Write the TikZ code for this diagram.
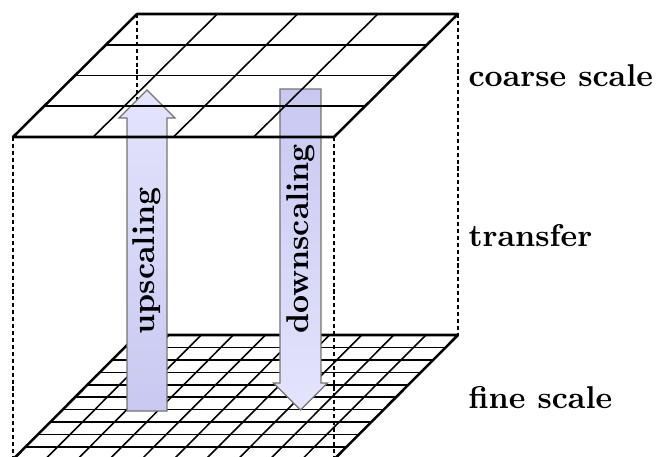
\documentclass[tikz,border=0pt]{standalone}
\usetikzlibrary{calc}
\definecolor{arrowlight}{RGB}{228,228,253}
\definecolor{arrowdark}{RGB}{200,200,242}
\begin{document}
\begin{tikzpicture}[x=0.3175pt,y=-0.3175pt,
  gridline/.style={line width=0.5pt},
  gridedge/.style={line width=0.8pt, line join=round},
  guide/.style={line width=0.4pt, dash pattern=on 1.3pt off 0.9pt},
  arrowbody/.style={draw=black!55, line width=0.35pt, line join=miter},
  layerlabel/.style={font=\bfseries, anchor=west},
  arrowlabel/.style={font=\bfseries, rotate=90}]
\useasboundingbox (0,0) rectangle (656,457);

% corners of the coarse (upper) and fine (lower) layers
\coordinate (cFL) at (13,137);  \coordinate (cFR) at (334,137);
\coordinate (cBL) at (137,14);  \coordinate (cBR) at (458,14);
\coordinate (fFL) at (13,459.5);  \coordinate (fFR) at (334,459.5);
\coordinate (fBL) at (137,335); \coordinate (fBR) at (458,335);

% vertical guides joining the two layers
\draw[guide] (cBL) -- (fBL);
\draw[guide] (cBR) -- (fBR);
\draw[guide] (cFL) -- (fFL);
\draw[guide] (cFR) -- (fFR);

% fine grid, 10 x 10
\foreach \i in {1,...,9} {
  \draw[gridline] ($(fFL)!\i/10!(fFR)$) -- ($(fBL)!\i/10!(fBR)$);
  \draw[gridline] ($(fFL)!\i/10!(fBL)$) -- ($(fFR)!\i/10!(fBR)$);
}
\draw[gridedge] (fFL) -- (fFR) -- (fBR) -- (fBL) -- cycle;

% upscaling arrow
\draw[arrowbody, top color=arrowlight, bottom color=arrowdark]
  (127,411) -- (127,118) -- (119,118) -- (147,90) -- (175,118)
  -- (167,118) -- (167,411) -- cycle;
\node[arrowlabel] (up) at (147,261) {upscaling};

% downscaling arrow
\draw[arrowbody, top color=arrowdark, bottom color=arrowlight]
  (280,89) -- (321,89) -- (321,383) -- (327.5,383) -- (300.5,410)
  -- (273.5,383) -- (280,383) -- cycle;
\node[arrowlabel] (down) at (300.5,239) {downscaling};

% coarse grid, 4 x 4, drawn over the arrows
\foreach \i in {1,...,3} {
  \draw[gridline] ($(cFL)!\i/4!(cFR)$) -- ($(cBL)!\i/4!(cBR)$);
  \draw[gridline] ($(cFL)!\i/4!(cBL)$) -- ($(cFR)!\i/4!(cBR)$);
}
\draw[gridedge] (cFL) -- (cFR) -- (cBR) -- (cBL) -- cycle;

% layer labels
\node[layerlabel] (coarse) at (457.5,75.5) {coarse scale};
\node[layerlabel] (transfer) at (457.5,236) {transfer};
\node[layerlabel] (fine) at (457.5,398) {fine scale};
\end{tikzpicture}
\end{document}
